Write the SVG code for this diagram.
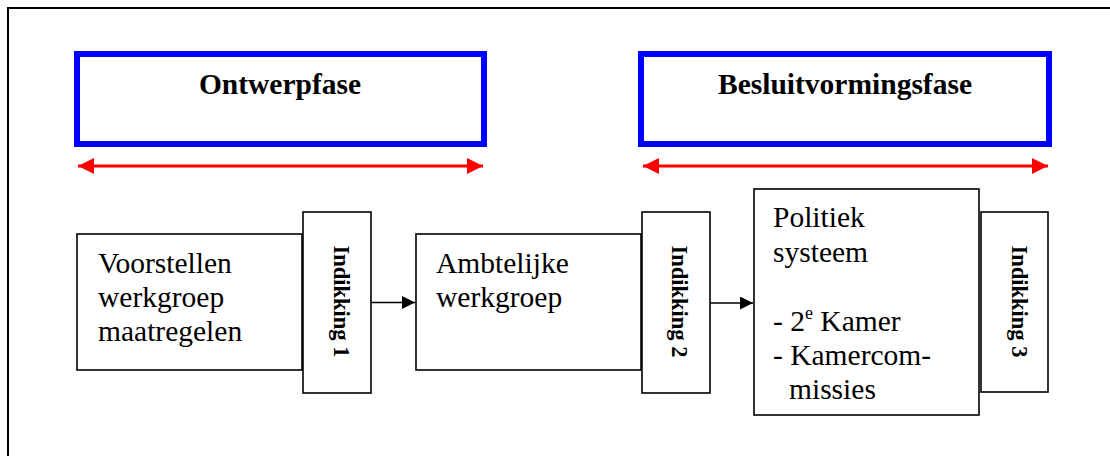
<svg xmlns="http://www.w3.org/2000/svg" width="1110" height="456" viewBox="0 0 1110 456">
  <style>
    .phase { fill: #ffffff; stroke: #0000ff; stroke-width: 6; }
    .box { fill: #ffffff; stroke: #000000; stroke-width: 1.6; }
    .title { font-family: "Liberation Serif", "Times New Roman", serif; font-size: 29.5px; font-weight: bold; fill: #000000; text-anchor: middle; }
    .label { font-family: "Liberation Serif", "Times New Roman", serif; font-size: 29.5px; font-weight: 400; fill: #000000; }
    .vert { font-family: "Liberation Serif", "Times New Roman", serif; font-size: 22.5px; font-weight: bold; fill: #000000; text-anchor: middle; }
    .span { stroke: #ff0000; stroke-width: 3; fill: none; }
    .flow { stroke: #000000; stroke-width: 1.4; fill: none; }
  </style>
  <defs>
    <marker id="redHead" markerUnits="userSpaceOnUse" markerWidth="17" markerHeight="17" refX="16" refY="8" orient="auto-start-reverse">
      <path d="M0,0 L16,8 L0,16 Z" fill="#ff0000"/>
    </marker>
    <marker id="blackHead" markerUnits="userSpaceOnUse" markerWidth="14" markerHeight="14" refX="13" refY="6.5" orient="auto">
      <path d="M0,0 L13,6.5 L0,13 Z" fill="#000000"/>
    </marker>
  </defs>

  <rect width="1110" height="456" fill="#ffffff"/>

  <!-- surrounding frame (open at right and bottom) -->
  <path d="M8,456 V8 H1110" fill="none" stroke="#000000" stroke-width="2"/>

  <g id="ontwerpfase">
    <rect class="phase" x="77" y="54" width="407" height="90"/>
    <text class="title" x="280" y="94">Ontwerpfase</text>
  </g>

  <g id="besluitvormingsfase">
    <rect class="phase" x="641" y="54" width="408" height="90"/>
    <text class="title" x="845" y="94">Besluitvormingsfase</text>
  </g>

  <g id="voorstellen">
    <rect class="box" x="77" y="234" width="225" height="136"/>
    <text class="label" x="98" y="273">Voorstellen</text>
    <text class="label" x="98" y="307">werkgroep</text>
    <text class="label" x="98" y="341">maatregelen</text>
  </g>

  <g id="indikking1">
    <rect class="box" x="303" y="212" width="68" height="181"/>
    <text class="vert" transform="translate(334,301.5) rotate(90)">Indikking 1</text>
  </g>

  <g id="ambtelijk">
    <rect class="box" x="416" y="234" width="225" height="136"/>
    <text class="label" x="436" y="273">Ambtelijke</text>
    <text class="label" x="436" y="307">werkgroep</text>
  </g>

  <g id="indikking2">
    <rect class="box" x="642" y="212" width="68" height="181"/>
    <text class="vert" transform="translate(672,301.5) rotate(90)">Indikking 2</text>
  </g>

  <g id="politiek">
    <rect class="box" x="754" y="189" width="225" height="226"/>
    <text class="label" x="773" y="227">Politiek</text>
    <text class="label" x="773" y="262">systeem</text>
    <text class="label" x="773" y="331">- 2<tspan font-size="18px" dy="-12">e</tspan><tspan dy="12"> Kamer</tspan></text>
    <text class="label" x="773" y="365">- Kamercom-</text>
    <text class="label" x="789" y="399">missies</text>
  </g>

  <g id="indikking3">
    <rect class="box" x="981" y="212" width="67" height="180"/>
    <text class="vert" transform="translate(1012,301.5) rotate(90)">Indikking 3</text>
  </g>

  <g id="connectors">
    <line class="span" x1="78" y1="166" x2="483" y2="166" marker-start="url(#redHead)" marker-end="url(#redHead)"/>
    <line class="span" x1="643" y1="166" x2="1048" y2="166" marker-start="url(#redHead)" marker-end="url(#redHead)"/>
    <line class="flow" x1="371" y1="302.5" x2="415" y2="302.5" marker-end="url(#blackHead)"/>
    <line class="flow" x1="710" y1="303" x2="753" y2="303" marker-end="url(#blackHead)"/>
  </g>
</svg>
